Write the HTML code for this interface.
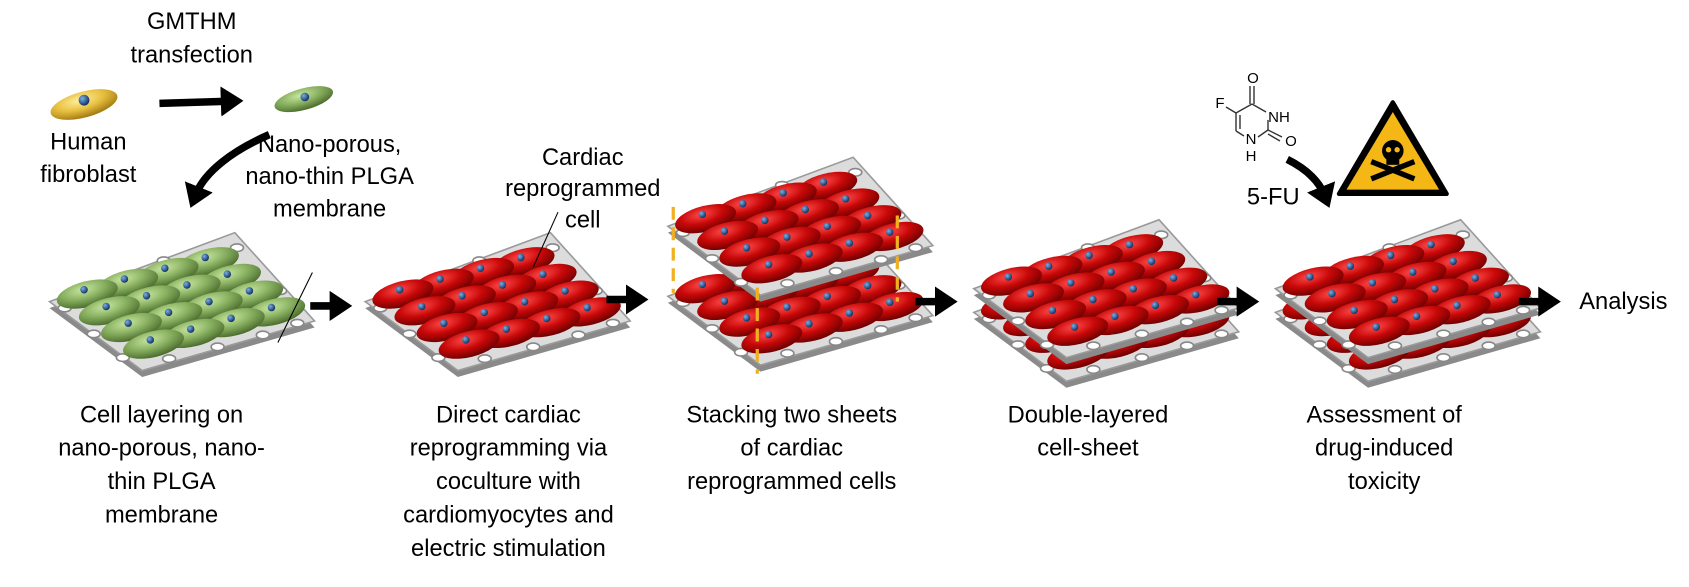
<!DOCTYPE html>
<html><head><meta charset="utf-8"><style>
body{margin:0;background:#fff}
svg{display:block}
text{font-family:"Liberation Sans",sans-serif;font-size:22px;fill:#000;text-anchor:middle}
</style></head><body>
<svg width="1689" height="587" viewBox="0 0 1689 587" xmlns="http://www.w3.org/2000/svg">
<defs>
<radialGradient id="gr" cx="0.45" cy="0.3" r="0.7"><stop offset="0" stop-color="#ff4a4a"/><stop offset="0.5" stop-color="#c80808"/><stop offset="1" stop-color="#6a0000"/></radialGradient>
<radialGradient id="gg" cx="0.45" cy="0.3" r="0.7"><stop offset="0" stop-color="#c8e6a0"/><stop offset="0.5" stop-color="#88b060"/><stop offset="1" stop-color="#4a6a2c"/></radialGradient>
<radialGradient id="gy" cx="0.45" cy="0.3" r="0.7"><stop offset="0" stop-color="#fff0a0"/><stop offset="0.5" stop-color="#e8c040"/><stop offset="1" stop-color="#a07810"/></radialGradient>
<radialGradient id="gn" cx="0.35" cy="0.35" r="0.7"><stop offset="0" stop-color="#7ab0e0"/><stop offset="1" stop-color="#0d2a60"/></radialGradient>
<g id="cR"><ellipse rx="29" ry="12" transform="rotate(-14)" fill="url(#gr)"/><circle cx="-3" cy="-4" r="3.5" fill="url(#gn)"/></g>
<g id="cG"><ellipse rx="29" ry="12" transform="rotate(-14)" fill="url(#gg)"/><circle cx="-3" cy="-4" r="3.5" fill="url(#gn)"/></g>
<g id="mem">
<polygon points="-6,-4 166,-68 240,14 80,60" fill="#8a8a8a"/>
<polygon points="-6,-10 166,-74 240,8 80,54" fill="#dcdcdc" stroke="#9a9a9a" stroke-width="1.5"/>
<g fill="#fff" stroke="#888" stroke-width="1.5">
<ellipse cx="8" cy="-4" rx="6" ry="3.5"/><ellipse cx="35" cy="20" rx="6" ry="3.5"/><ellipse cx="62" cy="42" rx="6" ry="3.5"/>
<ellipse cx="105" cy="43" rx="6" ry="3.5"/><ellipse cx="150" cy="32" rx="6" ry="3.5"/><ellipse cx="192" cy="21" rx="6" ry="3.5"/><ellipse cx="224" cy="10" rx="6" ry="3.5"/>
<ellipse cx="208" cy="-20" rx="6" ry="3.5"/><ellipse cx="168" cy="-60" rx="6" ry="3.5"/><ellipse cx="40" cy="-25" rx="6" ry="3.5"/><ellipse cx="100" cy="-48" rx="6" ry="3.5"/>
</g></g>
<g id="sR"><use href="#mem"/>
<use href="#cR" x="141.5" y="-47"/><use href="#cR" x="104" y="-37"/><use href="#cR" x="66.5" y="-27"/><use href="#cR" x="29" y="-17"/>
<use href="#cR" x="162" y="-31.5"/><use href="#cR" x="124.5" y="-21.5"/><use href="#cR" x="87" y="-11.5"/><use href="#cR" x="49.5" y="-1.5"/>
<use href="#cR" x="182.5" y="-16"/><use href="#cR" x="145" y="-6"/><use href="#cR" x="107.5" y="4"/><use href="#cR" x="70" y="14"/>
<use href="#cR" x="203" y="-0.5"/><use href="#cR" x="165.5" y="9.5"/><use href="#cR" x="128" y="19.5"/><use href="#cR" x="90.5" y="29.5"/>
</g>
<g id="sG"><use href="#mem"/>
<use href="#cG" x="141.5" y="-47"/><use href="#cG" x="104" y="-37"/><use href="#cG" x="66.5" y="-27"/><use href="#cG" x="29" y="-17"/>
<use href="#cG" x="162" y="-31.5"/><use href="#cG" x="124.5" y="-21.5"/><use href="#cG" x="87" y="-11.5"/><use href="#cG" x="49.5" y="-1.5"/>
<use href="#cG" x="182.5" y="-16"/><use href="#cG" x="145" y="-6"/><use href="#cG" x="107.5" y="4"/><use href="#cG" x="70" y="14"/>
<use href="#cG" x="203" y="-0.5"/><use href="#cG" x="165.5" y="9.5"/><use href="#cG" x="128" y="19.5"/><use href="#cG" x="90.5" y="29.5"/>
</g>
<marker id="ah" markerWidth="4" markerHeight="4" refX="1" refY="2" orient="auto" markerUnits="strokeWidth"><path d="M0,0 L3,2 L0,4 Z" fill="#000"/></marker>
</defs>

<g transform="scale(1.0772)">
<ellipse cx="78" cy="97" rx="32" ry="12" transform="rotate(-15 78 97)" fill="url(#gy)"/>
<circle cx="78" cy="93" r="5" fill="url(#gn)"/>
<ellipse cx="282" cy="92" rx="28" ry="10" transform="rotate(-15 282 92)" fill="url(#gg)"/>
<circle cx="283" cy="90" r="4" fill="url(#gn)"/>
<line x1="148" y1="96" x2="212" y2="94" stroke="#000" stroke-width="7" marker-end="url(#ah)"/>
<path d="M250,125 C215,140 190,160 182,180" fill="none" stroke="#000" stroke-width="7" marker-end="url(#ah)"/>

<text x="178" y="27">GMTHM</text><text x="178" y="58">transfection</text>
<text x="82" y="139">Human</text><text x="82" y="169">fibroblast</text>
<text x="306" y="141">Nano-porous,</text><text x="306" y="171">nano-thin PLGA</text><text x="306" y="201">membrane</text>
<text x="541" y="153">Cardiac</text><text x="541" y="182">reprogrammed</text><text x="541" y="211">cell</text>

<use href="#sG" x="52" y="290"/>
<line x1="290" y1="253" x2="258" y2="318" stroke="#000" stroke-width="1"/>
<use href="#sR" x="345" y="290"/>
<line x1="518" y1="197" x2="495" y2="248" stroke="#000" stroke-width="1"/>

<use href="#sR" x="626" y="285"/>
<use href="#sR" x="626" y="220"/>
<g stroke="#f0b020" stroke-width="3" stroke-dasharray="12,7">
<line x1="625" y1="192" x2="625" y2="272"/><line x1="703" y1="267" x2="703" y2="347"/><line x1="833" y1="200" x2="833" y2="280"/>
</g>

<use href="#sR" x="910" y="300"/>
<use href="#sR" x="910" y="278"/>
<use href="#sR" x="1190" y="300"/>
<use href="#sR" x="1190" y="278"/>

<g stroke="#000" stroke-width="7" marker-end="url(#ah)">
<line x1="288" y1="284" x2="313" y2="284"/>
<line x1="563" y1="278" x2="588" y2="278"/>
<line x1="850" y1="280" x2="875" y2="280"/>
<line x1="1130" y1="280" x2="1155" y2="280"/>
<line x1="1410" y1="280" x2="1435" y2="280"/>
<path d="M1195,148 C1215,158 1225,170 1229,180" fill="none"/>
</g>
<text x="1507" y="287">Analysis</text>
<text x="1182" y="190">5-FU</text>

<polygon points="1293,95 1343,180 1243,180" fill="#000" stroke="#000" stroke-width="4" stroke-linejoin="round"/>
<polygon points="1293,104 1336,176 1250,176" fill="#f5b716"/>
<g fill="#000">
<ellipse cx="1293" cy="140" rx="10" ry="10"/>
<rect x="1287" y="146" width="12" height="7"/>
<line x1="1273" y1="150" x2="1313" y2="166" stroke="#000" stroke-width="5"/>
<line x1="1313" y1="150" x2="1273" y2="166" stroke="#000" stroke-width="5"/>
<circle cx="1289" cy="139" r="2.5" fill="#f5b716"/><circle cx="1297" cy="139" r="2.5" fill="#f5b716"/>
</g>

<text x="150" y="392">Cell layering on</text><text x="150" y="423">nano-porous, nano-</text><text x="150" y="454">thin PLGA</text><text x="150" y="485">membrane</text>
<text x="472" y="392">Direct cardiac</text><text x="472" y="423">reprogramming via</text><text x="472" y="454">coculture with</text><text x="472" y="485">cardiomyocytes and</text><text x="472" y="516">electric stimulation</text>
<text x="735" y="392">Stacking two sheets</text><text x="735" y="423">of cardiac</text><text x="735" y="454">reprogrammed cells</text>
<text x="1010" y="392">Double-layered</text><text x="1010" y="423">cell-sheet</text>
<text x="1285" y="392">Assessment of</text><text x="1285" y="423">drug-induced</text><text x="1285" y="454">toxicity</text>
</g>

<g stroke="#333" stroke-width="1.4" fill="none">
<line x1="1254" y1="104" x2="1254" y2="86"/>
<line x1="1250" y1="104" x2="1250" y2="86"/>
<line x1="1252" y1="104" x2="1266" y2="112"/>
<line x1="1252" y1="104" x2="1236" y2="113"/>
<line x1="1236" y1="113" x2="1236" y2="131"/>
<line x1="1240" y1="115" x2="1240" y2="129"/>
<line x1="1236" y1="131" x2="1244" y2="136"/>
<line x1="1268" y1="120" x2="1268" y2="130"/>
<line x1="1268" y1="130" x2="1258" y2="137"/>
<line x1="1268" y1="130" x2="1282" y2="137"/>
<line x1="1268" y1="134" x2="1280" y2="141"/>
<line x1="1236" y1="113" x2="1226" y2="107"/>
</g>
<text x="1253" y="83" style="font-size:15px">O</text>
<text x="1279" y="122" style="font-size:15px">NH</text>
<text x="1291" y="146" style="font-size:15px">O</text>
<text x="1251" y="144" style="font-size:15px">N</text>
<text x="1251" y="161" style="font-size:15px">H</text>
<text x="1220" y="108" style="font-size:15px">F</text>
</svg>
</body></html>
